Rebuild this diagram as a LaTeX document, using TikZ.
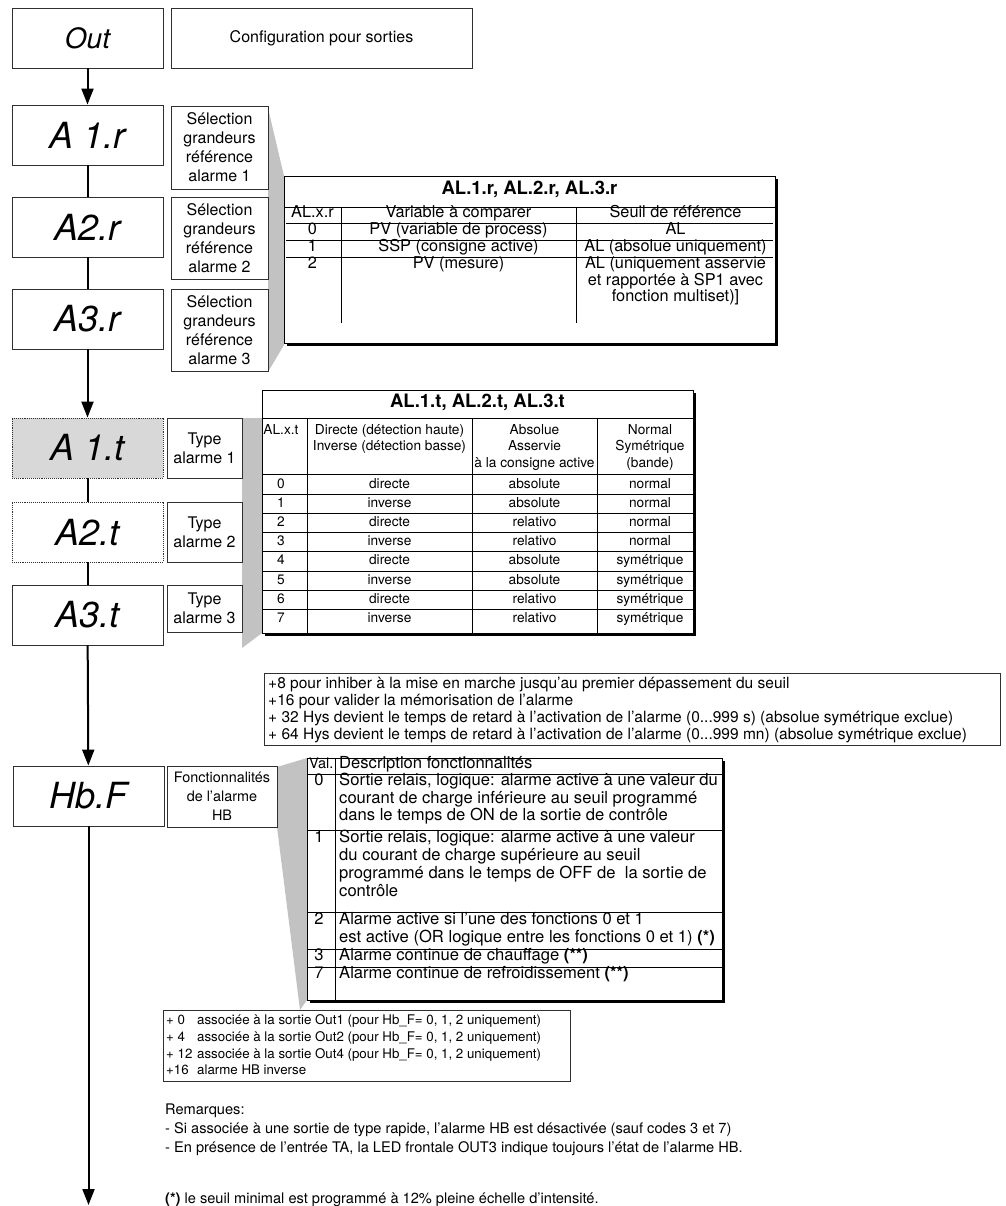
\documentclass[tikz,border=0pt]{standalone}
\usepackage{fontspec}
\setmainfont{TeX Gyre Heros}
\usetikzlibrary{arrows.meta}
\newcommand\fsz[2]{\fontsize{#1}{#2}\selectfont}
\definecolor{wedgegray}{HTML}{C2C2C2}
\definecolor{dispgray}{HTML}{D8D8D8}
\definecolor{edge}{HTML}{303030}
\begin{document}
\begin{tikzpicture}[x=1pt,y=-1pt,
  box/.style={draw=edge, line width=0.9pt, fill=white, inner sep=0pt, align=center, font=\fsz{16}{19}},
  disp/.style={box, minimum width=151pt, minimum height=60pt, font=\itshape\fsz{36}{36}},
  flow/.style={line width=2pt, draw=black},
  arr/.style={flow, -{Triangle[length=16pt,width=12pt]}},
  wedge/.style={fill=wedgegray},
  tab/.style={draw=black, line width=0.9pt, fill=white, inner sep=0pt},
  tline/.style={line width=0.7pt},
  cell/.style={inner sep=0pt, text height=0.68em, text depth=0.18em},
  csix/.style={cell, font=\fsz{16.3}{17}},
  cfour/.style={cell, font=\fsz{13.7}{14}},
  cseven/.style={cell, font=\fsz{16.6}{18}},
  cfive/.style={cell, font=\fsz{15.5}{17}},
  cplus/.style={cell, font=\fsz{13.3}{16}},
  crem/.style={cell, font=\fsz{14.6}{17}},
  ttl/.style={cell, font=\bfseries\fsz{18.5}{18.5}}]
\useasboundingbox (0,0) rectangle (1005,1206);

% callout wedges
\fill[wedge] (268,108) -- (284,176) -- (284,345) -- (268,372) -- cycle;
\fill[wedge] (242,418) -- (262,418) -- (262,633) -- (242,648) -- cycle;
\fill[wedge] (277,767) -- (307,758) -- (307,1000) -- (300,1010) -- (277,827) -- cycle;

% left column
\node[box, minimum width=151pt, minimum height=60pt, font=\itshape\fsz{28}{28}] (out) at (87.5,38) {Out};
\node[box, minimum width=301pt, minimum height=60pt] (cfg) at (321.5,38) {Configuration pour sorties};

\node[disp] (a1r) at (87.5,135) {A 1.r};
\node[disp] (a2r) at (87.5,227) {A2.r};
\node[disp] (a3r) at (87.5,319) {A3.r};
\node[disp, fill=dispgray, densely dotted] (a1t) at (87.5,448) {A 1.t};
\node[disp, densely dotted] (a2t) at (87.5,532) {A2.t};
\node[disp] (a3t) at (87.5,615) {A3.t};
\node[disp] (hbf) at (88.5,796) {Hb.F};
\coordinate (end) at (88.5,1205);

\draw[arr] (out) -- (a1r);
\draw[flow] (a1r) -- (a2r);
\draw[flow] (a2r) -- (a3r);
\draw[arr] (a3r) -- (a1t);
\draw[flow] (a1t) -- (a2t);
\draw[flow] (a2t) -- (a3t);
\draw[arr] (a3t) -- (hbf);
\draw[arr] (hbf) -- (end);

% labels
\node[box, minimum width=97pt, minimum height=83pt] (tr1) at (219.5,147.5) {Sélection\\grandeurs\\référence\\alarme 1};
\node[box, minimum width=97pt, minimum height=82pt] (tr2) at (219.5,238) {Sélection\\grandeurs\\référence\\alarme 2};
\node[box, minimum width=97pt, minimum height=82pt] (tr3) at (219.5,330) {Sélection\\grandeurs\\référence\\alarme 3};
\node[box, minimum width=75pt, minimum height=60pt] (tt1) at (204.5,448) {Type\\alarme 1};
\node[box, minimum width=75pt, minimum height=60pt] (tt2) at (204.5,532) {Type\\alarme 2};
\node[box, minimum width=75pt, minimum height=47pt] (tt3) at (204.5,608.5) {Type\\alarme 3};
\node[box, minimum width=110pt, minimum height=61pt, font=\fsz{14.4}{19}] (thb) at (222,796.5) {Fonctionnalités\\de l’alarme\\HB};

% table AL.r
\fill[black] (287,179) rectangle (778,346);
\node[tab, anchor=north west, minimum width=491pt, minimum height=167pt] (alr) at (284,176) {};
\node[ttl] (alrT) at (529.5,192) {AL.1.r, AL.2.r, AL.3.r};
\draw[tline] (284,207) -- (775,207);
\foreach \y in {223.5,240.5,257.5} \draw[tline] (286,\y) -- (773,\y);
\draw[tline] (341,207) -- (341,323);
\draw[tline] (576,207) -- (576,323);
\foreach \n/\y/\a/\b/\c in {h/215/AL.x.r/Variable à comparer/Seuil de référence,
    z/232/0/PV (variable de process)/AL,
    o/249/1/SSP (consigne active)/AL (absolue uniquement),
    t/266/2/PV (mesure)/AL (uniquement asservie}
  {\node[csix] (alr-\n-a) at (312.5,\y) {\a};
   \node[csix] (alr-\n-b) at (458.5,\y) {\b};
   \node[csix] (alr-\n-c) at (675.5,\y) {\c};}
\node[csix] (alr-t-c2) at (675.5,282.5) {et rapportée à SP1 avec};
\node[csix] (alr-t-c3) at (675.5,299) {fonction multiset)]};

% table AL.t
\fill[black] (265,393) rectangle (696,636);
\node[tab, anchor=north west, minimum width=431pt, minimum height=243pt] (alt) at (262,390) {};
\node[ttl] (altT) at (477.5,405) {AL.1.t, AL.2.t, AL.3.t};
\draw[tline] (262,418) -- (693,418);
\draw[tline] (262,474) -- (693,474);
\foreach \i in {0,...,6} \draw[tline] (262,494.5+19.1*\i) -- (693,494.5+19.1*\i);
\foreach \x in {307,472,597} \draw[tline] (\x,418) -- (\x,633);
\node[cfour] (alt-h1) at (281,432) {AL.x.t};
\node[cfour] (alt-h2a) at (389.5,432) {Directe (détection haute)};
\node[cfour] (alt-h2b) at (389.5,448) {Inverse (détection basse)};
\node[cfour] (alt-h3a) at (534.5,432) {Absolue};
\node[cfour] (alt-h3b) at (534.5,448) {Asservie};
\node[cfour] (alt-h3c) at (534.5,465) {à la consigne active};
\node[cfour] (alt-h4a) at (650,432) {Normal};
\node[cfour] (alt-h4b) at (650,448) {Symétrique};
\node[cfour] (alt-h4c) at (650,465) {(bande)};
\foreach \i/\d/\m/\s [evaluate=\i as \y using 486+19.1*\i] in
  {0/directe/absolute/normal, 1/inverse/absolute/normal,
   2/directe/relativo/normal, 3/inverse/relativo/normal,
   4/directe/absolute/symétrique, 5/inverse/absolute/symétrique,
   6/directe/relativo/symétrique, 7/inverse/relativo/symétrique}
  {\node[cfour] (alt-\i-a) at (281,\y) {\i};
   \node[cfour] (alt-\i-b) at (389.5,\y) {\d};
   \node[cfour] (alt-\i-c) at (534.5,\y) {\m};
   \node[cfour] (alt-\i-d) at (650,\y) {\s};}

% options box
\node[box, anchor=north west, minimum width=736pt, minimum height=72pt] (opt) at (264,673) {};
\foreach \n/\y/\t in {a/686/{+8 pour inhiber à la mise en marche jusqu’au premier dépassement du seuil},
   b/703/{+16 pour valider la mémorisation de l’alarme},
   c/720/{+ 32 Hys devient le temps de retard à l’activation de l’alarme (0...999 s) (absolue symétrique exclue)},
   d/737/{+ 64 Hys devient le temps de retard à l’activation de l’alarme (0...999 mn) (absolue symétrique exclue)}}
  {\node[cfive, anchor=west] (opt-\n) at (268,\y) {\t};}

% table HB
\fill[black] (310,761) rectangle (725,1003);
\node[tab, anchor=north west, minimum width=415pt, minimum height=242pt] (hbt) at (307,758) {};
\draw[tline] (335,758) -- (335,1000);
\foreach \y in {774.5,830,912,949,967} \draw[tline] (307,\y) -- (722,\y);
\node[cell, font=\fsz{14.5}{17}, anchor=west] (hb-hv) at (309,766) {Val.};
\node[cseven, anchor=west] (hb-hd) at (339,766) {Description fonctionnalités};
\foreach \n/\v/\y in {0/0/783, 1/1/840, 2/2/922, 3/3/958, 7/7/976}
  {\node[cseven] (hb-v\n) at (319,\y) {\v};}
\foreach \n/\y/\t in {a/783/{Sortie relais, logique: alarme active à une valeur du},
   b/800.5/{courant de charge inférieure au seuil programmé},
   c/818/{dans le temps de ON de la sortie de contrôle},
   d/840/{Sortie relais, logique: alarme active à une valeur},
   e/858/{du courant de charge supérieure au seuil},
   f/876/{programmé dans le temps de OFF de\ \ la sortie de},
   g/894/{contrôle},
   h/922/{Alarme active si l’une des fonctions 0 et 1},
   i/940/{est active (OR logique entre les fonctions 0 et 1) \textbf{(*)}},
   j/958/{Alarme continue de chauffage \textbf{(**)}},
   k/976/{Alarme continue de refroidissement \textbf{(**)}}}
  {\node[cseven, anchor=west] (hb-\n) at (339,\y) {\t};}

% +0 box
\node[box, anchor=north west, minimum width=407pt, minimum height=71pt] (outsel) at (163,1010) {};
\foreach \n/\y/\p/\t in {a/1022/{+ 0}/{associée à la sortie Out1 (pour Hb\_F= 0, 1, 2 uniquement)},
   b/1039/{+ 4}/{associée à la sortie Out2 (pour Hb\_F= 0, 1, 2 uniquement)},
   c/1056/{+ 12}/{associée à la sortie Out4 (pour Hb\_F= 0, 1, 2 uniquement)},
   d/1072/{+16}/{alarme HB inverse}}
  {\node[cplus, anchor=west] (os-p\n) at (166,\y) {\p};
   \node[cplus, anchor=west] (os-t\n) at (197,\y) {\t};}

% remarks
\node[crem, anchor=west] (rem1) at (165,1112) {Remarques:};
\node[crem, anchor=west] (rem2) at (165,1131) {- Si associée à une sortie de type rapide, l’alarme HB est désactivée (sauf codes 3 et 7)};
\node[crem, anchor=west] (rem3) at (165,1150) {- En présence de l’entrée TA, la LED frontale OUT3 indique toujours l’état de l’alarme HB.};
\node[crem, anchor=west] (rem4) at (165,1201) {\textbf{(*)} le seuil minimal est programmé à 12\% pleine échelle d’intensité.};
\end{tikzpicture}
\end{document}
